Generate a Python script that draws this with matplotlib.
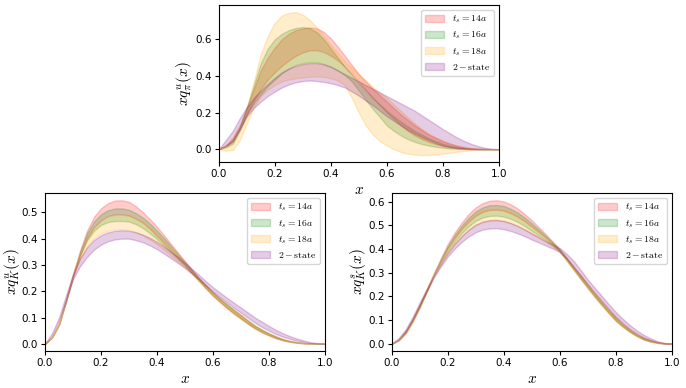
import matplotlib
matplotlib.use("Agg")
import matplotlib.pyplot as plt

plt.rcParams['mathtext.fontset'] = 'cm'

x_grid = [0.0, 0.025, 0.05, 0.075, 0.1, 0.125, 0.15, 0.175, 0.2, 0.225, 0.25,
          0.275, 0.3, 0.325, 0.35, 0.375, 0.4, 0.425, 0.45, 0.475, 0.5,
          0.525, 0.55, 0.575, 0.6, 0.625, 0.65, 0.675, 0.7, 0.725, 0.75,
          0.775, 0.8, 0.825, 0.85, 0.875, 0.9, 0.925, 0.95, 0.975, 1.0]

labels = [r'$t_s=14a$', r'$t_s=16a$', r'$t_s=18a$', r'$2-\mathrm{state}$']
colors = ['red', 'green', 'orange', 'purple']

# ---- pion u ----
pi_R_up = [0, .02, .06, .13, .225, .33, .43, .50, .555, .60, .63, .65, .66, .665, .66, .64, .605, .56, .51, .46, .41,
           .37, .33, .295, .26, .225, .19, .16, .13, .105, .08, .062, .045, .031, .02, .012, .006, .003, .001, 0, 0]
pi_R_lo = [0, .015, .04, .11, .19, .265, .33, .38, .42, .455, .485, .51, .528, .54, .54, .53, .51, .485, .45, .41, .37,
           .325, .28, .24, .20, .165, .13, .10, .075, .055, .04, .028, .018, .011, .006, .003, .001, 0, 0, 0, 0]
pi_G_up = [0, .015, .05, .12, .23, .35, .47, .55, .60, .63, .65, .662, .667, .66, .64, .60, .55, .50, .45, .405, .36,
           .32, .28, .245, .21, .18, .15, .125, .10, .08, .06, .044, .03, .02, .012, .007, .003, .001, 0, 0, 0]
pi_G_lo = [0, .01, .03, .10, .19, .25, .30, .345, .38, .415, .44, .46, .47, .475, .475, .465, .45, .43, .405, .37, .32,
           .27, .22, .175, .13, .10, .075, .055, .04, .028, .02, .013, .008, .004, .002, .001, 0, 0, 0, 0, 0]
pi_O_up = [0, .02, .06, .12, .22, .37, .52, .62, .69, .73, .745, .748, .735, .705, .665, .62, .57, .525, .48, .445, .41,
           .375, .34, .31, .28, .245, .21, .175, .14, .11, .085, .064, .045, .03, .018, .01, .005, .002, .001, 0, 0]
pi_O_lo = [0, -.008, -.005, .05, .14, .23, .29, .325, .35, .37, .38, .387, .392, .395, .397, .395, .387, .375, .35, .28, .20,
           .13, .08, .045, .02, 0, -.015, -.025, -.03, -.032, -.032, -.03, -.025, -.02, -.015, -.01, -.006, -.003, -.001, 0, 0]
pi_P_up = [0, .05, .10, .17, .23, .28, .32, .357, .39, .42, .44, .455, .465, .47, .47, .463, .45, .43, .41, .39, .37,
           .35, .33, .31, .29, .27, .25, .23, .21, .185, .16, .135, .11, .087, .065, .046, .03, .017, .008, .002, 0]
pi_P_lo = [0, .02, .045, .11, .18, .225, .26, .29, .315, .337, .353, .365, .372, .375, .372, .367, .36, .35, .337, .315, .292,
           .265, .24, .21, .18, .155, .13, .105, .085, .066, .05, .034, .02, .012, .007, .003, .001, 0, 0, 0, 0]

# ---- kaon u ----
ku_R_up = [0, .025, .075, .165, .265, .355, .43, .483, .515, .535, .545, .546, .54, .523, .50, .474, .445, .413, .38, .347, .315,
           .282, .25, .222, .195, .171, .15, .128, .108, .087, .068, .053, .04, .028, .018, .011, .006, .003, .001, 0, 0]
ku_R_lo = [0, .023, .07, .16, .255, .335, .40, .443, .47, .486, .492, .492, .488, .476, .46, .437, .41, .383, .355, .328, .30,
           .27, .24, .21, .182, .158, .135, .114, .095, .076, .058, .044, .032, .021, .013, .008, .004, .002, .001, 0, 0]
ku_G_up = [0, .025, .075, .163, .262, .348, .42, .465, .493, .508, .515, .515, .51, .497, .48, .457, .43, .402, .372, .341, .31,
           .28, .25, .222, .196, .172, .15, .13, .11, .09, .07, .054, .04, .028, .018, .011, .006, .003, .001, 0, 0]
ku_G_lo = [0, .025, .075, .16, .258, .335, .393, .43, .452, .463, .467, .467, .465, .455, .44, .42, .398, .373, .348, .322, .297,
           .268, .24, .212, .185, .161, .138, .117, .097, .078, .06, .045, .033, .022, .014, .008, .004, .002, .001, 0, 0]
ku_O_up = [0, .025, .075, .163, .262, .343, .405, .445, .468, .482, .49, .49, .487, .476, .462, .442, .418, .392, .365, .336, .307,
           .278, .248, .221, .194, .171, .149, .128, .108, .088, .068, .052, .038, .027, .017, .01, .005, .003, .001, 0, 0]
ku_O_lo = [0, .027, .08, .165, .255, .322, .37, .402, .42, .43, .435, .436, .433, .424, .412, .396, .378, .357, .335, .313, .29,
           .264, .237, .21, .183, .16, .137, .116, .095, .076, .058, .044, .032, .022, .014, .008, .004, .002, .001, 0, 0]
ku_P_up = [0, .04, .10, .185, .265, .325, .367, .395, .413, .424, .43, .432, .43, .424, .415, .403, .388, .37, .35, .33, .308,
           .285, .262, .238, .215, .195, .175, .156, .138, .119, .10, .084, .068, .053, .04, .029, .02, .012, .006, .002, 0]
ku_P_lo = [0, .035, .09, .165, .245, .295, .33, .358, .377, .39, .397, .40, .40, .394, .386, .374, .36, .343, .325, .307, .288,
           .267, .245, .221, .198, .177, .157, .137, .118, .099, .08, .064, .05, .037, .027, .019, .012, .007, .003, .001, 0]

# ---- kaon s ----
ks_R_up = [0, .018, .052, .103, .165, .23, .297, .36, .421, .47, .512, .548, .576, .594, .604, .606, .601, .589, .571, .548, .522,
           .493, .463, .432, .40, .363, .325, .288, .25, .213, .178, .144, .112, .084, .06, .04, .025, .014, .006, .002, 0]
ks_R_lo = [0, .015, .045, .095, .155, .222, .291, .35, .403, .447, .485, .516, .541, .557, .565, .566, .562, .551, .536, .517, .495,
           .472, .448, .421, .392, .354, .315, .276, .238, .201, .166, .132, .10, .074, .052, .034, .019, .01, .004, .001, 0]
ks_G_up = [0, .018, .053, .104, .165, .229, .294, .355, .412, .459, .499, .532, .559, .576, .585, .586, .582, .57, .554, .533, .509,
           .483, .456, .428, .398, .361, .323, .286, .248, .211, .176, .142, .11, .083, .059, .039, .024, .013, .006, .002, 0]
ks_G_lo = [0, .015, .046, .096, .155, .22, .287, .343, .392, .432, .467, .496, .519, .533, .54, .541, .537, .528, .514, .497, .477,
           .458, .438, .415, .39, .352, .313, .274, .236, .199, .164, .13, .098, .073, .051, .033, .018, .009, .004, .001, 0]
ks_O_up = [0, .017, .051, .102, .163, .227, .292, .351, .405, .45, .488, .52, .546, .562, .57, .571, .567, .556, .541, .521, .498,
           .474, .45, .424, .396, .359, .322, .285, .247, .21, .175, .141, .109, .082, .058, .039, .024, .013, .006, .002, 0]
ks_O_lo = [0, .014, .044, .094, .153, .218, .284, .337, .383, .421, .453, .48, .501, .514, .52, .521, .517, .508, .496, .481, .463,
           .447, .43, .41, .388, .35, .311, .272, .234, .197, .162, .128, .096, .071, .05, .032, .018, .009, .003, .001, 0]
ks_P_up = [0, .024, .062, .115, .175, .232, .285, .336, .384, .423, .455, .482, .503, .516, .522, .523, .519, .51, .498, .483, .467,
           .451, .434, .42, .405, .38, .35, .312, .272, .237, .203, .168, .135, .106, .08, .057, .038, .023, .011, .004, 0]
ks_P_lo = [0, .02, .052, .103, .162, .221, .279, .326, .368, .402, .43, .453, .471, .482, .487, .488, .484, .476, .466, .454, .44,
           .428, .415, .402, .388, .36, .325, .288, .252, .216, .182, .148, .115, .088, .063, .043, .027, .015, .007, .002, 0]

panels = [
    ([(pi_R_lo, pi_R_up), (pi_G_lo, pi_G_up), (pi_O_lo, pi_O_up), (pi_P_lo, pi_P_up)],
     r'$xq^u_\pi(x)$', [0.319, 0.582, 0.408, 0.405]),
    ([(ku_R_lo, ku_R_up), (ku_G_lo, ku_G_up), (ku_O_lo, ku_O_up), (ku_P_lo, ku_P_up)],
     r'$xq^u_K(x)$', [0.0656, 0.0954, 0.408, 0.407]),
    ([(ks_R_lo, ks_R_up), (ks_G_lo, ks_G_up), (ks_O_lo, ks_O_up), (ks_P_lo, ks_P_up)],
     r'$xq^s_K(x)$', [0.571, 0.0954, 0.408, 0.407]),
]

fig = plt.figure(figsize=(6.86, 3.88), dpi=100)
for bands, ylab, pos in panels:
    ax = fig.add_axes(pos)
    for (lo, up), c, lab in zip(bands, colors, labels):
        ax.fill_between(x_grid, lo, up, color=c, alpha=0.2, label=lab)
    ax.set_xlim(0, 1)
    ax.set_xlabel(r'$x$', fontsize=11, labelpad=2)
    ax.set_ylabel(ylab, fontsize=11, labelpad=0)
    ax.tick_params(labelsize=7.5, length=3, pad=2)
    ax.legend(loc='upper right', fontsize=7, labelspacing=0.45)

fig.savefig('out.png', dpi=100)
